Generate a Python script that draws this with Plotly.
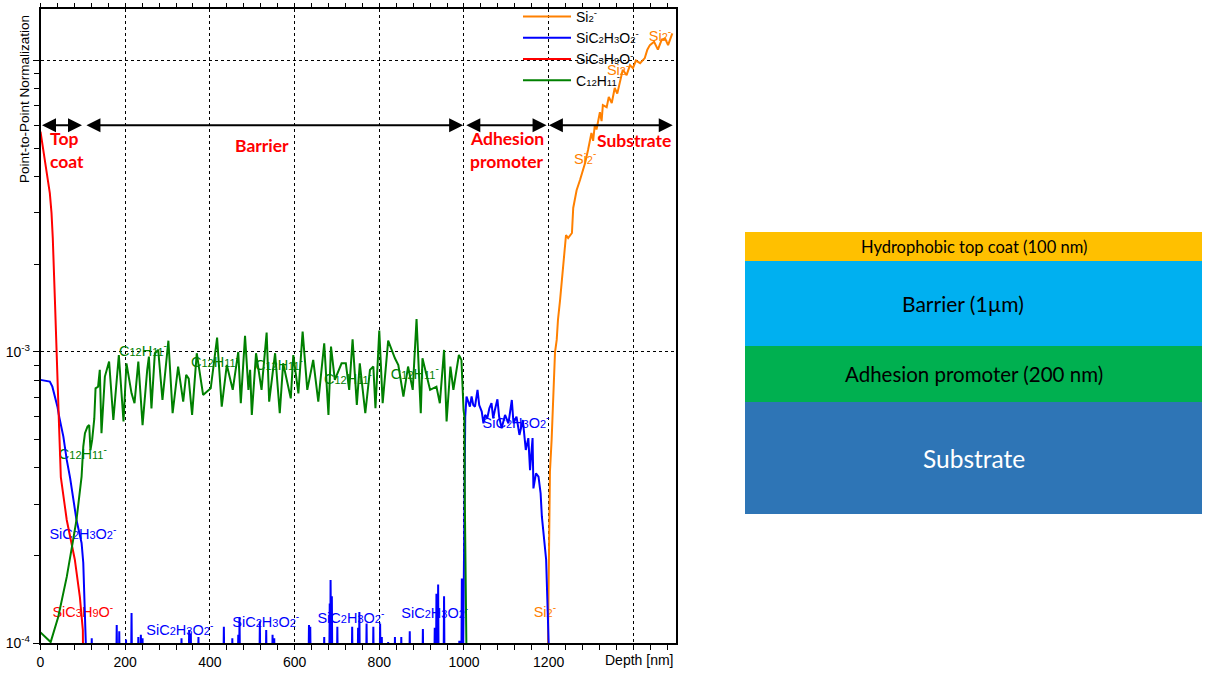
import math
import plotly.graph_objects as go

# all intensities below are in units of 1e-3
red_depth = [0, 5, 14, 22, 26, 29, 34, 37, 40, 44, 48, 55, 62, 81, 93, 100, 100.5]
red_vals = [5.7, 5.06, 4.11, 3.51, 3.0, 2.46, 1.51, 1.16, 0.847, 0.548, 0.372, 0.31, 0.265, 0.194, 0.144, 0.111, 0.09]

green_depth = [0, 24, 42, 62, 77, 85, 97, 101, 105, 111, 115, 118, 122, 127, 130, 136, 140, 144, 152, 162, 172, 185,
               196, 203, 215, 222, 231, 241, 252, 256, 262, 270, 278, 288, 302, 312, 325, 337, 344, 350, 358, 369,
               384, 402, 417, 428, 440, 454, 467, 473, 483, 491, 495, 499, 509, 522, 534, 540, 554, 565, 573, 591,
               597, 609, 619, 630, 644, 656, 670, 680, 686, 695, 711, 721, 729, 737, 747, 754, 767, 778, 786, 791,
               800, 808, 821, 837, 845, 857, 868, 879, 888, 898, 902, 920, 935, 943, 953, 959, 968, 975, 988, 994,
               999, 1001, 1002, 1004, 1005, 1006]
green_vals = [0.109, 0.101, 0.1234, 0.169, 0.226, 0.265, 0.373, 0.473, 0.526, 0.554, 0.561, 0.46, 0.499, 0.59, 0.75,
              0.76, 0.868, 0.526, 0.823, 0.927, 0.584, 0.976, 0.577, 0.914, 0.721, 0.667, 0.927, 0.561, 0.868, 0.964,
              0.64, 0.99, 1.016, 0.684, 1.093, 0.616, 0.891, 0.675, 0.834, 0.81, 0.608, 0.99, 0.712, 0.75, 1.12,
              0.649, 0.902, 0.741, 1.0, 0.667, 1.135, 0.741, 0.868, 0.608, 0.99, 0.741, 1.165, 0.675, 0.99, 0.616,
              0.914, 0.693, 0.976, 0.721, 1.174, 0.741, 0.939, 0.675, 1.071, 0.608, 1.043, 0.802, 0.914, 0.914,
              0.741, 1.105, 0.658, 0.914, 0.616, 0.868, 0.891, 0.641, 1.183, 0.667, 1.094, 0.951, 0.902, 0.703,
              0.891, 0.741, 1.297, 0.616, 0.951, 0.741, 0.76, 0.667, 1.016, 0.577, 0.891, 0.741, 0.976, 0.939,
              0.632, 0.6, 0.31, 0.144, 0.1, 0.09]

blue_depth = [0, 22, 28, 40, 44, 54, 62, 70, 85, 97, 101, 105, 107, 108]
blue_vals = [0.802, 0.791, 0.76, 0.649, 0.6, 0.512, 0.426, 0.369, 0.265, 0.221, 0.189, 0.114, 0.1, 0.09]

blue_spike_depth = [121, 180, 186, 202, 215, 231, 237, 241, 333, 351, 355, 373, 433, 453, 467, 470, 518, 533, 548, 552,
                    634, 637, 670, 683, 685, 688, 701, 736, 750, 753, 770, 786, 802, 806, 821, 837, 852, 872, 903,
                    931, 935, 939, 953, 989, 992, 995]
blue_spike_vals = [0.104, 0.1156, 0.11, 0.103, 0.127, 0.105, 0.107, 0.104, 0.104, 0.111, 0.108, 0.105, 0.114, 0.104,
                   0.107, 0.123, 0.119, 0.111, 0.107, 0.104, 0.1156, 0.114, 0.105, 0.137, 0.165, 0.145, 0.114, 0.114,
                   0.113, 0.128, 0.117, 0.114, 0.117, 0.105, 0.101, 0.105, 0.105, 0.11, 0.112, 0.113, 0.148, 0.159,
                   0.145, 0.102, 0.102, 0.167]

blue_upper_depth = [998, 1000, 1001.6, 1003, 1006, 1011, 1014, 1018, 1022, 1026, 1032, 1036, 1042, 1046, 1050, 1055,
                    1060, 1065, 1069, 1073, 1079, 1083, 1089, 1097, 1105, 1113, 1117, 1124, 1131, 1139, 1146, 1152,
                    1156, 1162, 1164, 1170, 1176, 1181, 1184, 1194, 1199, 1200, 1201]
blue_upper_vals = [0.09, 0.265, 0.31, 0.6, 0.703, 0.675, 0.649, 0.703, 0.657, 0.649, 0.741, 0.657, 0.624, 0.569,
                   0.608, 0.592, 0.641, 0.667, 0.592, 0.632, 0.688, 0.6, 0.547, 0.608, 0.569, 0.684, 0.569, 0.6,
                   0.519, 0.584, 0.461, 0.506, 0.393, 0.506, 0.34, 0.383, 0.373, 0.327, 0.272, 0.194, 0.105, 0.1, 0.09]

orange_depth = [1198, 1199.5, 1200, 1202, 1203, 1207, 1211, 1215, 1219, 1222, 1227, 1234, 1238, 1241, 1246, 1255, 1258,
                1266, 1274, 1286, 1293, 1301, 1305, 1309, 1313, 1321, 1325, 1328, 1337, 1342, 1349, 1356, 1362, 1368,
                1375, 1384, 1392, 1399, 1406, 1416, 1427, 1433, 1439, 1449, 1458, 1467, 1475, 1482, 1490, 1492]
orange_vals = [0.09, 0.141, 0.265, 0.323, 0.387, 0.499, 0.7, 0.997, 1.1, 1.29, 1.51, 1.91, 2.15, 2.52, 2.46, 2.56, 3.12,
               3.59, 3.89, 4.45, 4.93, 5.64, 5.3, 6.01, 5.8, 6.65, 6.2, 7.03, 6.92, 7.5, 7.15, 8.05, 7.7, 8.44,
               9.3, 8.91, 9.65, 9.42, 10.0, 9.8, 10.2, 10.9, 11.3, 11.6, 10.9, 11.8, 11.9, 11.3, 12.2, 12.4]

x_ticks = [0, 200, 400, 600, 800, 1000, 1200, 1400]
x_tick_labels = ["0", "200", "400", "600", "800", "1000", "1200", ""]
x_minor = list(range(0, 1500, 40))
y_ticks = [1e-4, 1e-3, 1e-2]
y_tick_labels = ["10<sup>-4</sup>", "10<sup>-3</sup>", ""]
y_minor = [m * e for e in (1e-4, 1e-3) for m in range(2, 10)]

layer_names = ["Substrate", "Adhesion promoter (200 nm)", "Barrier (1\u00b5m)", "Hydrophobic top coat (100 nm)"]
layer_heights = [112, 56, 85, 29]
layer_colors = ["#2e75b6", "#00b050", "#00b0f0", "#ffc000"]
layer_font = [24.5, 20.5, 21, 16.5]
layer_text = ["white", "black", "black", "black"]
layer_text_x = [0.0, 0.0, -0.024, 0.0]

# thickness arrows: from, to (nm) and the depth of the region captions
arrow_start = [0, 105, 1002, 1197]
arrow_end = [98, 998, 1195, 1493]
arrow_level = 6e-3

region_text = ["Top", "coat", "Barrier", "Adhesion", "promoter", "Substrate"]
region_depth = [18, 18, 523, 1009, 1009, 1401]
region_level = [5.4e-3, 4.5e-3, 5.1e-3, 5.4e-3, 4.5e-3, 5.3e-3]
region_anchor = ["left", "left", "center", "left", "left", "center"]


def ion_names(size):
    def sub(s):
        return '<span style="font-size:%gpx">%s</span>' % (size, s)
    return {"#ff8000": "Si" + sub("2") + "<sup>-</sup>",
            "#0000ff": "SiC" + sub("2") + "H" + sub("3") + "O" + sub("2") + "<sup>-</sup>",
            "#ff0000": "SiC" + sub("3") + "H" + sub("9") + "O<sup>-</sup>",
            "#008000": "C" + sub("12") + "H" + sub("11") + "<sup>-</sup>"}


label_depth = {
    "#ff8000": [1463, 1364, 1286, 1191],
    "#0000ff": [100, 329, 532, 733, 931, 1123],
    "#ff0000": [100],
    "#008000": [242, 412, 563, 726, 884, 100],
}
label_vals = {
    "#ff8000": [12.0, 9.2, 4.56, 0.127],
    "#0000ff": [0.234, 0.11, 0.1175, 0.121, 0.126, 0.566],
    "#ff0000": [0.127],
    "#008000": [1.0, 0.91, 0.895, 0.80, 0.834, 0.44],
}

W = 1216
H = 680


def scaled(vals):
    return [v * 1e-3 for v in vals]


def blue_series():
    floor = 0.08
    pts = list(zip(blue_depth, blue_vals)) + list(zip(blue_upper_depth, blue_upper_vals))
    for d, v in zip(blue_spike_depth, blue_spike_vals):
        pts += [(d - 1.2, floor), (d, v), (d + 1.2, floor)]
    pts.sort(key=lambda p: p[0])
    return [p[0] for p in pts], [p[1] for p in pts]


fig = go.Figure()

label_names = ion_names(11)
for color in label_depth:
    fig.add_trace(go.Scatter(x=label_depth[color], y=scaled(label_vals[color]), mode="text",
                             text=[label_names[color]] * len(label_depth[color]),
                             textfont=dict(family="Liberation Sans", size=14.5, color=color),
                             showlegend=False, cliponaxis=False, hoverinfo="skip"))

blue_x, blue_y = blue_series()
legend_names = ion_names(9.5)
series = [("#ff8000", orange_depth, orange_vals),
          ("#0000ff", blue_x, blue_y),
          ("#ff0000", red_depth, red_vals),
          ("#008000", green_depth, green_vals)]
for color, xs, ys in series:
    fig.add_trace(go.Scatter(x=xs, y=scaled(ys), mode="lines", name=legend_names[color],
                             line=dict(color=color, width=2)))

# empty trace so the top tick axis gets drawn
fig.add_trace(go.Scatter(x=[None], y=[None], xaxis="x3", yaxis="y", showlegend=False, hoverinfo="skip"))

for i in range(len(layer_names)):
    fig.add_trace(go.Bar(x=[0], y=[layer_heights[i]], xaxis="x2", yaxis="y2", width=1,
                         marker=dict(color=layer_colors[i], line=dict(width=0)),
                         showlegend=False, hoverinfo="skip"))

annotations = []
for a, b in zip(arrow_start, arrow_end):
    annotations.append(dict(x=b, y=math.log10(arrow_level), ax=a, ay=math.log10(arrow_level),
                            xref="x", yref="y", axref="x", ayref="y", text="", showarrow=True,
                            arrowhead=2, arrowside="end+start", arrowsize=1.4, arrowwidth=2, arrowcolor="black",
                            standoff=0, startstandoff=0))
for t, d, lv, anc in zip(region_text, region_depth, region_level, region_anchor):
    annotations.append(dict(x=d, y=math.log10(lv), xref="x", yref="y", text="<b>%s</b>" % t, showarrow=False,
                            xanchor=anc, font=dict(family="Lato", size=17.5, color="#ff0000")))

base = 0
for i in range(len(layer_names)):
    annotations.append(dict(x=layer_text_x[i], y=base + layer_heights[i] / 2, xref="x2", yref="y2",
                            text=layer_names[i], showarrow=False,
                            font=dict(family="Lato", size=layer_font[i], color=layer_text[i])))
    base += layer_heights[i]

annotations.append(dict(x=24 / W, y=1 - 99 / H, xref="paper", yref="paper", text="Point-to-Point Normalization",
                        textangle=-90, showarrow=False, xanchor="center", yanchor="middle",
                        font=dict(family="Liberation Sans", size=13.5, color="black")))
annotations.append(dict(x=639 / W, y=1 - 660 / H, xref="paper", yref="paper", text="Depth [nm]",
                        showarrow=False, xanchor="center", yanchor="middle",
                        font=dict(family="Liberation Sans", size=14, color="black")))

tick_font = dict(family="Liberation Sans", size=14, color="black")
plot_x = [40.5 / W, 675.7 / W]

fig.update_layout(
    width=W, height=H, margin=dict(l=0, r=0, t=0, b=0, autoexpand=False), plot_bgcolor="white",
    paper_bgcolor="white", barmode="stack", font=dict(family="Liberation Sans", size=13, color="black"),
    annotations=annotations,
    legend=dict(x=518 / W, y=1 - 1 / H, xanchor="left", yanchor="top", bgcolor="rgba(0,0,0,0)", traceorder="normal",
                itemwidth=48, font=dict(family="Liberation Sans", size=14, color="black"), borderwidth=0),
    xaxis=dict(domain=plot_x, range=[0, 1500], tickmode="array", tickvals=x_ticks,
               ticktext=x_tick_labels, tickfont=tick_font,
               ticks="outside", ticklen=5, tickcolor="black", showline=True, linecolor="black", linewidth=1.5,
               mirror=True, showgrid=True, gridcolor="black", griddash="3px,3px", gridwidth=1, zeroline=False,
               minor=dict(tickmode="array", tickvals=x_minor, ticks="outside", ticklen=5, tickcolor="black",
                          showgrid=False)),
    xaxis3=dict(domain=plot_x, range=[0, 1500], overlaying="x", side="top", anchor="y", tickmode="array",
                tickvals=x_minor, ticks="outside", ticklen=5, tickcolor="black", showticklabels=False,
                showgrid=False, zeroline=False, showline=False),
    yaxis=dict(domain=[1 - 643.3 / H, 1 - 9.3 / H], type="log", range=[-4, -1.824], tickmode="array",
               tickvals=y_ticks, tickfont=tick_font,
               ticktext=y_tick_labels, ticks="outside", ticklen=6, tickcolor="black", showline=True,
               linecolor="black", linewidth=1.5, mirror=True, showgrid=True, gridcolor="black", griddash="3px,3px",
               gridwidth=1, zeroline=False,
               minor=dict(tickmode="array", tickvals=y_minor, ticks="outside", ticklen=5, tickcolor="black",
                          showgrid=False)),
    xaxis2=dict(domain=[745 / W, 1202 / W], range=[-0.5, 0.5], visible=False, anchor="y2"),
    yaxis2=dict(domain=[1 - 514 / H, 1 - 232 / H], range=[0, sum(layer_heights)], visible=False, anchor="x2"),
)

fig.write_html("out.html", config={"displayModeBar": False}, post_script="document.body.style.margin='0'")
